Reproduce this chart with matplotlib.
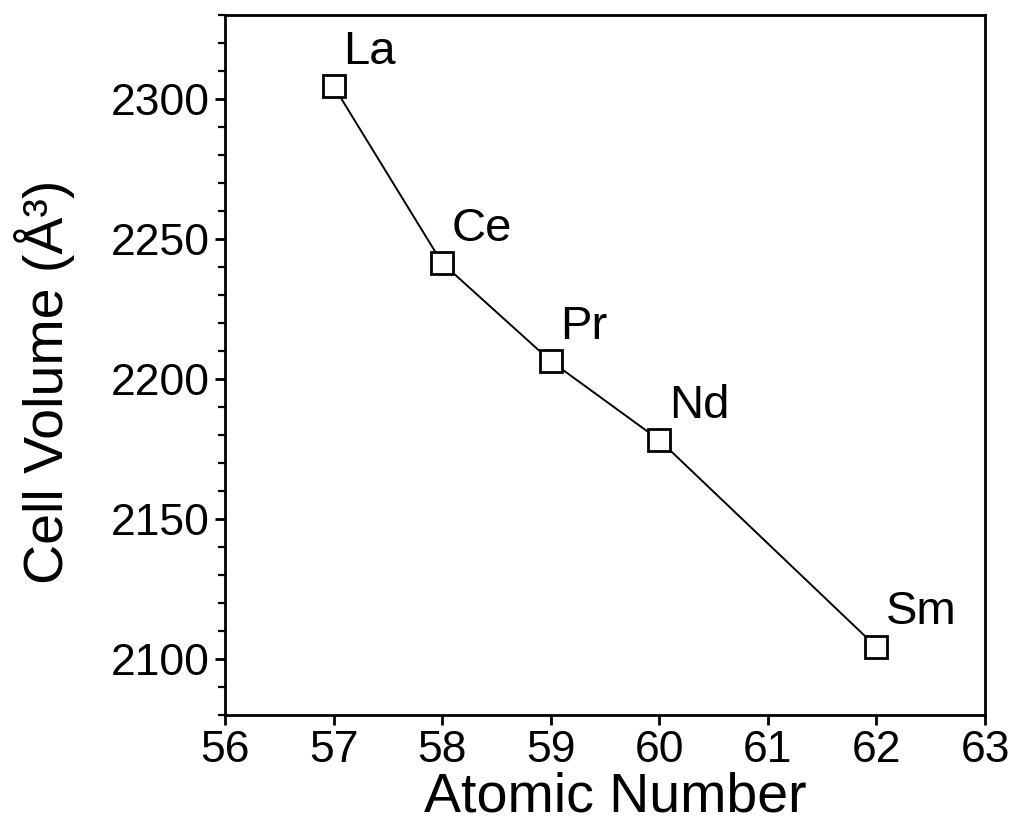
import matplotlib
matplotlib.use("Agg")
import matplotlib.pyplot as plt
from matplotlib.ticker import MultipleLocator

atomic_number = [57, 58, 59, 60, 62]
cell_volume = [2304.6, 2241.4, 2206.4, 2178.2, 2104.3]
elements = ["La", "Ce", "Pr", "Nd", "Sm"]

plt.rcParams['font.family'] = ['Liberation Sans', 'DejaVu Sans']

fig = plt.figure(figsize=(10.16, 8.23), dpi=100)
ax = fig.add_axes([0.2215, 0.1312, 0.748, 0.8506])

ax.plot(atomic_number, cell_volume, color='black', linewidth=1.4,
        marker='s', markersize=16, markerfacecolor='white',
        markeredgecolor='black', markeredgewidth=2.0)

for x, y, name in zip(atomic_number, cell_volume, elements):
    ax.annotate(name, (x, y), xytext=(7, 9), textcoords='offset points',
                fontsize=34, ha='left', va='bottom')

ax.set_xlim(56, 63)
ax.set_ylim(2080, 2330)
ax.xaxis.set_major_locator(MultipleLocator(1))
ax.yaxis.set_major_locator(MultipleLocator(50))
ax.yaxis.set_minor_locator(MultipleLocator(10))
ax.tick_params(axis='both', which='major', direction='out', length=7, width=2.0,
               labelsize=32, pad=4)
ax.tick_params(axis='y', which='minor', direction='out', length=5, width=1.6)
ax.tick_params(top=False, right=False)
for s in ax.spines.values():
    s.set_linewidth(2.0)

ax.set_xlabel('Atomic Number', fontsize=40, labelpad=0)
ax.set_ylabel('Cell Volume (Å³)', fontsize=40, labelpad=26)
ax.xaxis.label.set_x(0.513)
ax.yaxis.label.set_y(0.476)

fig.savefig('out.png', dpi=100)
